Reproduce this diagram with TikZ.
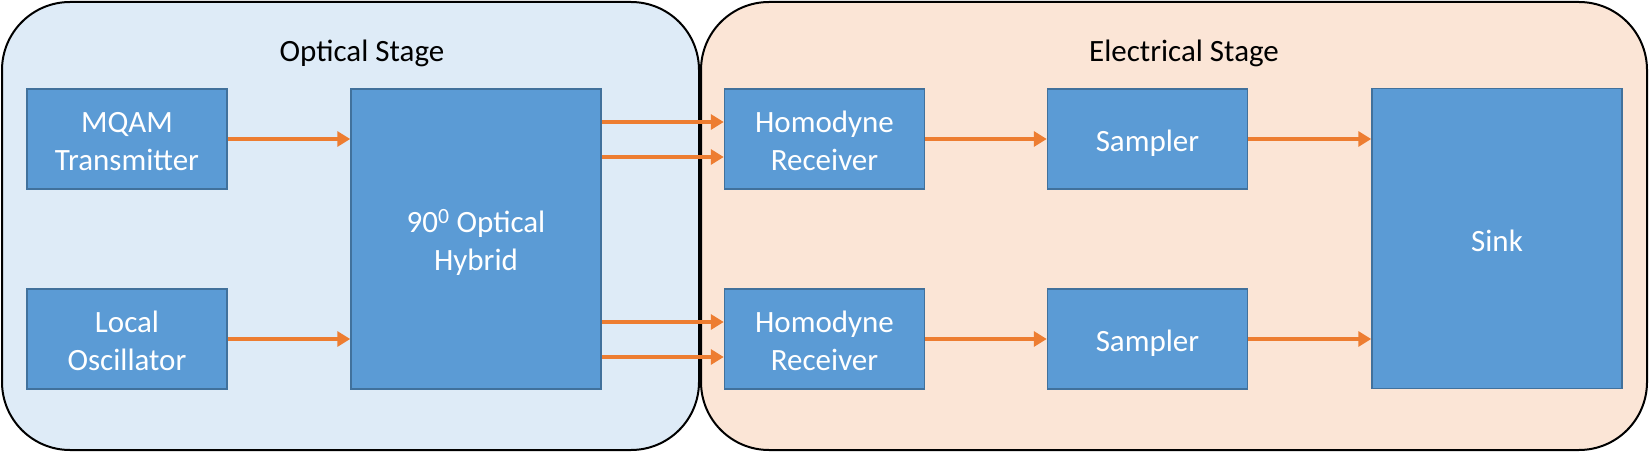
\documentclass[tikz,border=0pt]{standalone}
\usepackage{fontspec}
\setmainfont{Carlito}
\usetikzlibrary{arrows.meta,calc}
\definecolor{boxfill}{HTML}{5B9BD5}
\definecolor{boxline}{HTML}{41719C}
\definecolor{arrcol}{HTML}{ED7D31}
\definecolor{leftbg}{HTML}{DEEBF7}
\definecolor{rightbg}{HTML}{FBE5D6}
\newcommand{\boxtext}[1]{\raisebox{-5pt}[\height][\depth]{\begin{tabular}{@{}c@{}}#1\end{tabular}}}
\tikzset{
  panel/.style={draw=black, line width=2pt, rounded corners=68pt},
  blk/.style={draw=boxline, fill=boxfill, line width=1.5pt, text=white,
    inner sep=0pt, font=\fontsize{31}{37.5}\selectfont},
  small/.style={blk, minimum width=200pt, minimum height=100pt},
  big/.style={blk, minimum width=250pt, minimum height=300pt},
  title/.style={text=black, font=\fontsize{31}{37.5}\selectfont, inner sep=0pt, anchor=base},
  arr/.style={draw=arrcol, line width=4pt, -{Triangle[length=13pt,width=15pt]}}
}
\begin{document}
\begin{tikzpicture}[x=1pt,y=-1pt]
\useasboundingbox (0,0) rectangle (1649,452);
\path[panel, fill=leftbg] (2,2) rectangle (699,450);
\path[panel, fill=rightbg] (701,2) rectangle (1647,450);
\node[title] (t1) at (362,61.5) {Optical Stage};
\node[title] (t2) at (1184,61.5) {Electrical Stage};
\node[small] (tx) at (127,139) {\boxtext{MQAM\\Transmitter}};
\node[small] (lo) at (127,339) {\boxtext{Local\\Oscillator}};
\node[big] (hyb) at (476,239) {\boxtext{90\textsuperscript{0} Optical\\Hybrid}};
\node[small] (hr1) at (824.5,139) {\boxtext{Homodyne\\Receiver}};
\node[small] (hr2) at (824.5,339) {\boxtext{Homodyne\\Receiver}};
\node[small] (s1) at (1147.5,139) {\boxtext{Sampler}};
\node[small] (s2) at (1147.5,339) {\boxtext{Sampler}};
\node[big] (sink) at (1497,238.5) {\boxtext{Sink}};
\coordinate (a1) at ($(hr1.west)+(0,-17)$);
\coordinate (a2) at ($(hr1.west)+(0,18)$);
\coordinate (a3) at ($(hr2.west)+(0,-17)$);
\coordinate (a4) at ($(hr2.west)+(0,18)$);
\coordinate (b1) at (sink.west |- s1.east);
\coordinate (b2) at (sink.west |- s2.east);
\draw[arr] (tx.east) -- (hyb.west |- tx.east);
\draw[arr] (lo.east) -- (hyb.west |- lo.east);
\draw[arr] (hyb.east |- a1) -- (a1);
\draw[arr] (hyb.east |- a2) -- (a2);
\draw[arr] (hyb.east |- a3) -- (a3);
\draw[arr] (hyb.east |- a4) -- (a4);
\draw[arr] (hr1.east) -- (s1.west);
\draw[arr] (hr2.east) -- (s2.west);
\draw[arr] (s1.east) -- (b1);
\draw[arr] (s2.east) -- (b2);
\end{tikzpicture}
\end{document}
